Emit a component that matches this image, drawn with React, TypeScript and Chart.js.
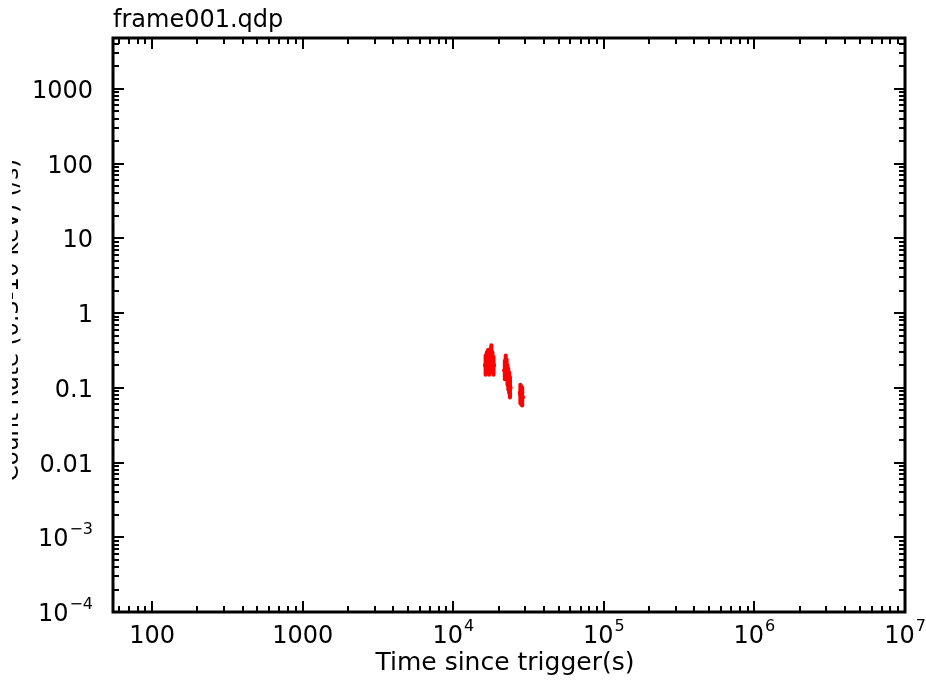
import React, { useEffect, useRef } from "react";
import { Chart, registerables } from "chart.js";

Chart.register(...registerables);

const plotTitle = "frame001.qdp";
const xTitle = "Time since trigger(s)";
const yTitle = "Count Rate (0.3-10 keV) (/s)";

const xMin = 55;
const xMax = 1e7;
const yMin = 1e-4;
const yMax = 4800;

const xTickValues = [100, 1000, 1e4, 1e5, 1e6, 1e7];
const xTickBase = ["100", "1000", "10", "10", "10", "10"];
const xTickSup = ["", "", "4", "5", "6", "7"];

const yTickValues = [1000, 100, 10, 1, 0.1, 0.01, 1e-3, 1e-4];
const yTickBase = ["1000", "100", "10", "1", "0.1", "0.01", "10", "10"];
const yTickSup = ["", "", "", "", "", "", "\u22123", "\u22124"];

const times = [16400, 16700, 17000, 17300, 17600, 17900, 18200, 18500, 22000, 22300, 22600, 22900, 23200, 23500, 23800, 27900, 28300, 28700];
const timeErr = [150, 150, 150, 150, 150, 150, 150, 150, 150, 150, 150, 150, 150, 150, 150, 200, 200, 200];
const rates = [0.2, 0.22, 0.24, 0.21, 0.25, 0.27, 0.22, 0.2, 0.17, 0.2, 0.18, 0.15, 0.13, 0.12, 0.1, 0.085, 0.08, 0.075];
const rateLo = [0.15, 0.16, 0.17, 0.15, 0.18, 0.2, 0.16, 0.15, 0.13, 0.15, 0.13, 0.11, 0.095, 0.085, 0.074, 0.062, 0.06, 0.058];
const rateHi = [0.27, 0.3, 0.32, 0.28, 0.33, 0.37, 0.3, 0.26, 0.23, 0.27, 0.24, 0.2, 0.18, 0.16, 0.14, 0.11, 0.105, 0.1];

const FONT = "'DejaVu Sans', 'Liberation Sans', sans-serif";
const RED = "#ff0000";

function minorValues(min: number, max: number): number[] {
  const out: number[] = [];
  for (let e = Math.floor(Math.log10(min)); e <= Math.ceil(Math.log10(max)); e++) {
    for (let m = 2; m <= 9; m++) {
      const v = m * Math.pow(10, e);
      if (v > min && v < max) out.push(v);
    }
  }
  return out;
}

const qdpPlugin = {
  id: "qdpPlugin",
  beforeDraw(chart: any) {
    const ctx = chart.ctx;
    ctx.save();
    ctx.fillStyle = "#ffffff";
    ctx.fillRect(0, 0, chart.width, chart.height);
    ctx.restore();
  },
  beforeDatasetsDraw(chart: any) {
    const ctx = chart.ctx;
    const xs = chart.scales.x;
    const ys = chart.scales.y;
    ctx.save();
    ctx.strokeStyle = RED;
    ctx.lineWidth = 4;
    ctx.lineCap = "round";
    for (let i = 0; i < times.length; i++) {
      const px = xs.getPixelForValue(times[i]);
      const py = ys.getPixelForValue(rates[i]);
      ctx.beginPath();
      ctx.moveTo(px, ys.getPixelForValue(rateLo[i]));
      ctx.lineTo(px, ys.getPixelForValue(rateHi[i]));
      ctx.stroke();
      ctx.beginPath();
      ctx.moveTo(xs.getPixelForValue(times[i] - timeErr[i]), py);
      ctx.lineTo(xs.getPixelForValue(times[i] + timeErr[i]), py);
      ctx.stroke();
    }
    ctx.restore();
  },
  afterDraw(chart: any) {
    const ctx = chart.ctx;
    const xs = chart.scales.x;
    const ys = chart.scales.y;
    const a = chart.chartArea;
    ctx.save();
    ctx.strokeStyle = "#000";
    ctx.fillStyle = "#000";

    ctx.lineWidth = 2;
    const major = 11;
    const minor = 6;
    const drawX = (v: number, len: number) => {
      const p = Math.round(xs.getPixelForValue(v));
      ctx.beginPath();
      ctx.moveTo(p, a.bottom);
      ctx.lineTo(p, a.bottom - len);
      ctx.moveTo(p, a.top);
      ctx.lineTo(p, a.top + len);
      ctx.stroke();
    };
    const drawY = (v: number, len: number) => {
      const p = Math.round(ys.getPixelForValue(v));
      ctx.beginPath();
      ctx.moveTo(a.left, p);
      ctx.lineTo(a.left + len, p);
      ctx.moveTo(a.right, p);
      ctx.lineTo(a.right - len, p);
      ctx.stroke();
    };
    xTickValues.forEach((v) => drawX(v, major));
    minorValues(xMin, xMax).forEach((v) => drawX(v, minor));
    yTickValues.forEach((v) => drawY(v, major));
    minorValues(yMin, yMax).forEach((v) => drawY(v, minor));

    ctx.lineWidth = 3;
    ctx.strokeRect(a.left, a.top, a.right - a.left, a.bottom - a.top);

    const big = "24px " + FONT;
    const small = "16px " + FONT;
    ctx.textBaseline = "alphabetic";
    xTickValues.forEach((v, i) => {
      const p = xs.getPixelForValue(v);
      ctx.font = big;
      const wb = ctx.measureText(xTickBase[i]).width;
      ctx.font = small;
      const ws = xTickSup[i] ? ctx.measureText(xTickSup[i]).width + 1 : 0;
      const x0 = p - (wb + ws) / 2;
      ctx.font = big;
      ctx.textAlign = "left";
      ctx.fillText(xTickBase[i], x0, 643);
      if (xTickSup[i]) {
        ctx.font = small;
        ctx.fillText(xTickSup[i], x0 + wb + 1, 631);
      }
    });

    yTickValues.forEach((v, i) => {
      const p = ys.getPixelForValue(v);
      const right = 93;
      ctx.textAlign = "left";
      ctx.font = small;
      const ws = yTickSup[i] ? ctx.measureText(yTickSup[i]).width + 1 : 0;
      ctx.font = big;
      const wb = ctx.measureText(yTickBase[i]).width;
      const x0 = right - ws - wb;
      ctx.fillText(yTickBase[i], x0, p + 9);
      if (yTickSup[i]) {
        ctx.font = small;
        ctx.fillText(yTickSup[i], x0 + wb + 1, p - 3);
      }
    });

    ctx.font = "24px " + FONT;
    ctx.textAlign = "left";
    ctx.fillText(plotTitle, a.left, 27);
    ctx.font = "25px " + FONT;
    ctx.textAlign = "center";
    ctx.fillText(xTitle, 505, 670);

    ctx.save();
    ctx.beginPath();
    ctx.rect(12, 0, 30, chart.height);
    ctx.clip();
    ctx.translate(18, 320);
    ctx.rotate(-Math.PI / 2);
    ctx.font = "23px " + FONT;
    ctx.textAlign = "center";
    ctx.fillText(yTitle, 0, 0);
    ctx.restore();

    ctx.restore();
  },
};

export default function App() {
  const ref = useRef<HTMLCanvasElement | null>(null);
  useEffect(() => {
    if (!ref.current) return;
    const chart = new Chart(ref.current, {
      type: "scatter",
      data: {
        datasets: [
          {
            data: times.map((t, i) => ({ x: t, y: rates[i] })),
            backgroundColor: RED,
            borderColor: RED,
            pointRadius: 2.5,
            pointBorderWidth: 0,
          },
        ],
      },
      options: {
        responsive: false,
        animation: false,
        layout: { padding: { left: 113, right: 21, top: 38, bottom: 68 } },
        plugins: { legend: { display: false }, tooltip: { enabled: false }, title: { display: false } },
        scales: {
          x: { type: "logarithmic", min: xMin, max: xMax, display: false },
          y: { type: "logarithmic", min: yMin, max: yMax, display: false },
        },
      },
      plugins: [qdpPlugin],
    });
    return () => chart.destroy();
  }, []);
  return (
    <div style={{ position: "absolute", left: 0, top: 0, width: 926, height: 680, background: "#fff" }}>
      <canvas ref={ref} width={926} height={680} style={{ display: "block" }} />
    </div>
  );
}
